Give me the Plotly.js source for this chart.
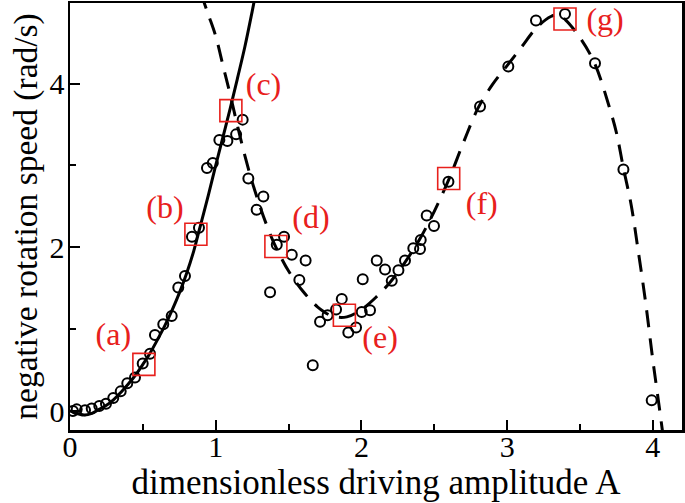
<!DOCTYPE html>
<html>
<head>
<meta charset="utf-8">
<script src="https://cdn.plot.ly/plotly-3.0.1.min.js"></script>
<style>html,body{margin:0;padding:0;background:#fff}#chart{width:685px;height:503px}</style>
</head>
<body>
<div id="chart"></div>
<script>
// measured points (open circles)
const dataX = [0.02,0.046,0.103,0.149,0.201,0.247,0.297,0.348,0.393,0.446,0.499,0.549,0.583,0.640,0.698,0.743,0.789,0.837,0.885,0.94,0.98,1.025,1.08,1.14,1.185,1.224,1.281,1.327,1.373,1.419,1.469,1.522,1.574,1.617,1.666,1.716,1.768,1.826,1.865,1.910,1.963,2.002,2.009,2.059,2.105,2.162,2.208,2.254,2.299,2.356,2.402,2.407,2.448,2.498,2.597,2.814,3.008,3.198,3.397,3.603,3.798,3.992];
const dataY = [0.00,0.02,0.01,0.03,0.06,0.09,0.16,0.24,0.34,0.41,0.58,0.70,0.93,1.06,1.16,1.51,1.65,2.13,2.24,2.97,3.03,3.31,3.30,3.38,3.56,2.84,2.46,2.62,1.45,2.03,2.13,1.91,1.60,1.84,0.56,1.09,1.17,1.24,1.37,0.96,1.02,1.21,1.61,1.23,1.84,1.73,1.59,1.72,1.84,1.99,1.98,2.09,2.39,2.26,2.80,3.72,4.21,4.77,4.85,4.25,2.95,0.13];

// solid curve (low-amplitude branch)
const solidX = [0,0.05,0.1,0.15,0.2,0.25,0.3,0.35,0.4,0.45,0.5,0.55,0.6,0.65,0.7,0.75,0.8,0.85,0.9,0.95,1.0,1.05,1.1,1.15,1.2,1.25,1.28];
const solidY = [0,-0.03,-0.05,-0.03,0.02,0.07,0.14,0.23,0.33,0.44,0.57,0.71,0.87,1.04,1.23,1.44,1.68,1.96,2.30,2.64,3.00,3.35,3.70,4.07,4.45,4.88,5.15];

// dashed curve (high-amplitude branch)
const dashX = [0.895,0.95,1.0,1.05,1.1,1.15,1.2,1.25,1.3,1.35,1.4,1.45,1.5,1.6,1.7,1.8,1.9,2.0,2.1,2.2,2.3,2.4,2.5,2.6,2.7,2.8,2.9,3.0,3.1,3.2,3.3,3.35,3.4,3.5,3.6,3.7,3.75,3.8,3.85,3.9,3.95,4.0,4.04,4.07];
const dashY = [5.12,4.84,4.58,4.22,3.86,3.48,3.12,2.80,2.52,2.27,2.05,1.87,1.71,1.46,1.27,1.16,1.15,1.24,1.39,1.58,1.82,2.10,2.44,2.83,3.28,3.70,3.99,4.22,4.45,4.68,4.82,4.84,4.78,4.56,4.25,3.72,3.40,2.95,2.53,1.95,1.33,0.62,0.10,-0.30];

// marked states (red squares) and labels
const markLabels = ["(a)","(b)","(c)","(d)","(e)","(f)","(g)"];
const markX = [0.507,0.864,1.104,1.413,1.883,2.599,3.397];
const markY = [0.57,2.16,3.67,2.01,1.17,2.84,4.79];
const labelX = [0.297,0.652,1.328,1.654,2.128,2.826,3.672];
const labelY = [0.91,2.46,3.96,2.33,0.87,2.50,4.75];

const FONT = "Liberation Serif, Times New Roman, serif";

const traces = [
  {x: dataX, y: dataY, type: "scatter", mode: "markers",
   marker: {symbol: "circle-open", size: 10, color: "#000", line: {width: 2, color: "#000"}}, hoverinfo: "skip"},
  {x: solidX, y: solidY, type: "scatter", mode: "lines",
   line: {color: "#000", width: 3, shape: "spline"}, hoverinfo: "skip"},
  {x: dashX, y: dashY, type: "scatter", mode: "lines",
   line: {color: "#000", width: 3, shape: "spline", dash: "17px,11px"}, hoverinfo: "skip"},
  {x: markX, y: markY, type: "scatter", mode: "markers",
   marker: {symbol: "square-open", size: 22, color: "#e8201c", line: {width: 1.6, color: "#e8201c"}}, hoverinfo: "skip"},
  {x: labelX, y: labelY, type: "scatter", mode: "text", text: markLabels, cliponaxis: false,
   textposition: "middle center", textfont: {family: FONT, size: 32, color: "#e8201c"}, hoverinfo: "skip"}
];

const axisCommon = {
  showgrid: false, zeroline: false, showline: true, mirror: true,
  linecolor: "#000", linewidth: 2.5, ticks: "inside", ticklen: 10, tickwidth: 2, tickcolor: "#000",
  tickfont: {family: FONT, size: 30, color: "#000"}
};

const layout = {
  width: 685, height: 503,
  margin: {l: 70, r: 3, t: 3, b: 73},
  paper_bgcolor: "#fff", plot_bgcolor: "#fff",
  showlegend: false,
  xaxis: Object.assign({}, axisCommon, {
    range: [0, 4.2], tick0: 0, dtick: 1, ticklabelstandoff: -12,
    minor: {dtick: 0.5, ticks: "inside", ticklen: 6, tickwidth: 2, tickcolor: "#000"},
    title: {text: "dimensionless driving amplitude A", font: {family: FONT, size: 35, color: "#000"}, standoff: 0}
  }),
  yaxis: Object.assign({}, axisCommon, {
    range: [-0.232, 4.985], tick0: 0, dtick: 2, ticklabelstandoff: -3,
    minor: {dtick: 1, ticks: "inside", ticklen: 6, tickwidth: 2, tickcolor: "#000"},
    title: {text: "negative rotation speed (rad/s)", font: {family: FONT, size: 33.5, color: "#000"}, standoff: 2}
  })
};

Plotly.newPlot("chart", traces, layout, {staticPlot: true, displayModeBar: false});
</script>
</body>
</html>
